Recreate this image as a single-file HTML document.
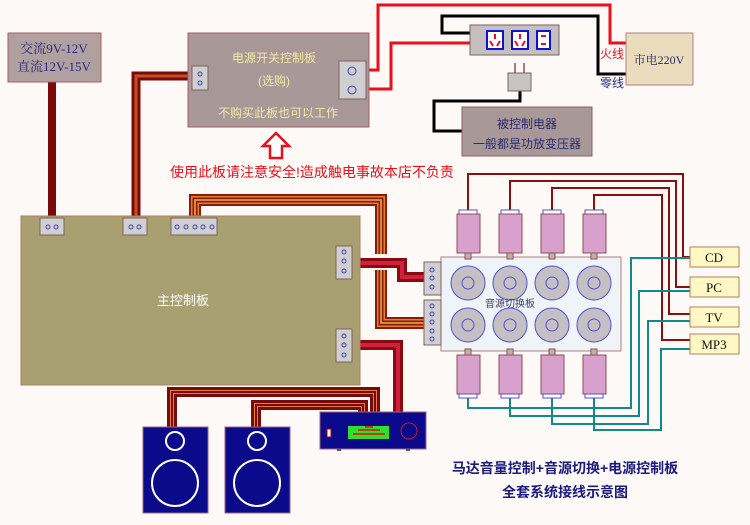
<!DOCTYPE html>
<html><head><meta charset="utf-8"><style>
html,body{margin:0;padding:0;background:#fdf9f6;}
svg{display:block;font-family:"Liberation Sans","Noto Sans CJK SC",sans-serif;}
.sf{font-family:"Liberation Serif","Noto Serif CJK SC",serif;}
</style></head><body>
<svg width="750" height="525" viewBox="0 0 750 525" xmlns="http://www.w3.org/2000/svg">
<defs>
<g id="rib">
</g>
</defs>
<rect width="750" height="525" fill="#fdf9f6"/>

<!-- wires: power -->
<polyline points="369,70 378,70 378,5 610,5 610,43 626,43" fill="none" stroke="#e8101c" stroke-width="3"/>
<polyline points="369,89 391,89 391,43 470,43" fill="none" stroke="#e8101c" stroke-width="3"/>
<polyline points="470,33 442,33 442,16 598,16 598,74 626,74" fill="none" stroke="#000" stroke-width="3"/>
<polyline points="520,91 520,101 434,101 434,131 462,131" fill="none" stroke="#000" stroke-width="3"/>

<!-- AC wire -->
<rect x="48" y="82" width="8" height="136" fill="#7a0a0a"/>

<!-- ribbon cables -->
<g fill="none" stroke-linejoin="miter">
<g id="r1">
<polyline points="136,218 136,76 188,76" stroke="#7a0a0a" stroke-width="9"/>
<polyline points="136,218 136,76 188,76" stroke="#c05020" stroke-width="3"/>
</g>
<polyline points="195,216 195,200 381,200 381,254" stroke="#8a1a0a" stroke-width="12"/>
<polyline points="195,216 195,200 381,200 381,254" stroke="#e08030" stroke-width="8"/>
<polyline points="195,216 195,200 381,200 381,254" stroke="#8a1a0a" stroke-width="5"/>
<polyline points="195,216 195,200 381,200 381,254" stroke="#f0b040" stroke-width="1.5"/>
<polyline points="352,263 402,263 402,277 424,277" stroke="#8a0a10" stroke-width="10"/>
<polyline points="352,263 402,263 402,277 424,277" stroke="#d02040" stroke-width="4"/>
<polyline points="381,270 381,323 424,323" stroke="#8a1a0a" stroke-width="12"/>
<polyline points="381,270 381,323 424,323" stroke="#e08030" stroke-width="8"/>
<polyline points="381,270 381,323 424,323" stroke="#8a1a0a" stroke-width="5"/>
<polyline points="381,270 381,323 424,323" stroke="#f0b040" stroke-width="1.5"/>
<polyline points="352,345 398,345 398,412" stroke="#8a0a10" stroke-width="10"/>
<polyline points="352,345 398,345 398,412" stroke="#d02040" stroke-width="4"/>
<polyline points="172,427 172,392 375,392 375,412" stroke="#7a0a0a" stroke-width="10"/>
<polyline points="172,427 172,392 375,392 375,412" stroke="#e08030" stroke-width="4"/>
<polyline points="172,427 172,392 375,392 375,412" stroke="#7a0a0a" stroke-width="2"/>
<polyline points="256,427 256,405 363,405 363,412" stroke="#7a0a0a" stroke-width="10"/>
<polyline points="256,427 256,405 363,405 363,412" stroke="#e08030" stroke-width="4"/>
<polyline points="256,427 256,405 363,405 363,412" stroke="#7a0a0a" stroke-width="2"/>
</g>

<!-- signal wires -->
<g fill="none" stroke="#8a1010" stroke-width="2">
<polyline points="468,213 468,174 683,174 683,257 690,257"/>
<polyline points="510,213 510,181 676,181 676,287 690,287"/>
<polyline points="552,213 552,188 669,188 669,314 690,314"/>
<polyline points="594,213 594,195 662,195 662,340 690,340"/>
</g>
<g fill="none" stroke="#108a8a" stroke-width="2">
<polyline points="468,396 468,408 631,408 631,258 690,258"/>
<polyline points="510,396 510,416 639,416 639,291 690,291"/>
<polyline points="552,396 552,424 648,424 648,321 690,321"/>
<polyline points="594,396 594,430 661,430 661,349 690,349"/>
</g>

<!-- AC box -->
<rect x="8" y="33" width="93" height="49" fill="#b0a0a0" stroke="#a86060"/>
<text x="54" y="53" class="sf" font-size="13" fill="#2a2a80" text-anchor="middle">交流9V-12V</text>
<text x="54" y="71" class="sf" font-size="13" fill="#2a2a80" text-anchor="middle">直流12V-15V</text>

<!-- power board -->
<rect x="188" y="33" width="181" height="94" fill="#a89898" stroke="#a86060"/>
<rect x="192" y="66" width="16" height="24" fill="#d0d0d0" stroke="#806060"/>
<circle cx="200" cy="74" r="2" fill="none" stroke="#4040c0"/><circle cx="200" cy="83" r="2" fill="none" stroke="#4040c0"/>
<rect x="339" y="61" width="27" height="38" fill="#d0d0d0" stroke="#806060"/>
<circle cx="352" cy="71" r="4" fill="none" stroke="#4040c0"/><circle cx="352" cy="90" r="4" fill="none" stroke="#4040c0"/>
<text x="274" y="62" font-size="12" fill="#f5e8a8" text-anchor="middle">电源开关控制板</text>
<text x="274" y="85" font-size="12" fill="#f5e8a8" text-anchor="middle">(选购)</text>
<text x="278" y="117" font-size="12" fill="#f5e8a8" text-anchor="middle">不购买此板也可以工作</text>

<!-- red arrow -->
<path d="M276,133 L289,146 L282,146 L282,158 L270,158 L270,146 L263,146 Z" fill="#fff" stroke="#e8101c" stroke-width="2.5"/>
<text x="312" y="177" font-size="14" fill="#e8101c" text-anchor="middle">使用此板请注意安全!造成触电事故本店不负责</text>

<!-- socket -->
<rect x="470" y="25" width="89" height="30" fill="#c4c0c0" stroke="#806060"/>
<g fill="#fff" stroke="#1010d0" stroke-width="2">
<rect x="487" y="31" width="16" height="18"/><rect x="512" y="31" width="16" height="18"/><rect x="537" y="31" width="13" height="18"/>
</g>
<g stroke="#e8101c" stroke-width="2">
<line x1="495" y1="34" x2="495" y2="39"/><line x1="490" y1="41" x2="493" y2="46"/><line x1="500" y1="41" x2="497" y2="46"/>
<line x1="520" y1="34" x2="520" y2="39"/><line x1="515" y1="41" x2="518" y2="46"/><line x1="525" y1="41" x2="522" y2="46"/>
<line x1="541" y1="36" x2="546" y2="36"/><line x1="541" y1="44" x2="546" y2="44"/>
</g>
<!-- plug -->
<rect x="514" y="63" width="2" height="10" fill="#a08080"/><rect x="523" y="63" width="2" height="10" fill="#a08080"/>
<rect x="508" y="73" width="23" height="18" fill="#c8c4c4" stroke="#806060"/>

<!-- 220V -->
<rect x="626" y="33" width="67" height="52" fill="#eadcbc" stroke="#b08080"/>
<text x="659" y="64" class="sf" font-size="12" fill="#2a2a60" text-anchor="middle">市电220V</text>
<text x="600" y="58" font-size="12" fill="#e8101c">火线</text>
<text x="600" y="87" font-size="12" fill="#2a2a80">零线</text>

<!-- controlled appliance -->
<rect x="462" y="107" width="130" height="49" fill="#a89898" stroke="#906060"/>
<text x="527" y="128" font-size="12" fill="#2a2a70" text-anchor="middle">被控制电器</text>
<text x="527" y="148" font-size="12" fill="#2a2a70" text-anchor="middle">一般都是功放变压器</text>

<!-- main board -->
<rect x="21" y="216" width="339" height="169" fill="#a8a070" stroke="#b08060"/>
<g fill="#d0d0d0" stroke="#806060">
<rect x="40" y="218" width="24" height="17"/><rect x="123" y="218" width="24" height="17"/><rect x="171" y="218" width="46" height="17"/>
<rect x="336" y="246" width="16" height="33"/><rect x="336" y="329" width="16" height="33"/>
</g>
<g fill="none" stroke="#4040c0">
<circle cx="48" cy="227" r="2"/><circle cx="56" cy="227" r="2"/>
<circle cx="131" cy="227" r="2"/><circle cx="139" cy="227" r="2"/>
<circle cx="177" cy="227" r="2"/><circle cx="186" cy="227" r="2"/><circle cx="195" cy="227" r="2"/><circle cx="203" cy="227" r="2"/><circle cx="212" cy="227" r="2"/>
<circle cx="344" cy="252" r="2"/><circle cx="344" cy="261" r="2"/><circle cx="344" cy="271" r="2"/>
<circle cx="344" cy="336" r="2"/><circle cx="344" cy="345" r="2"/><circle cx="344" cy="355" r="2"/>
</g>
<text x="183" y="305" font-size="13" fill="#fff" text-anchor="middle">主控制板</text>

<!-- switch board -->
<rect x="441" y="257" width="180" height="94" fill="#eef4f8" stroke="#b08080"/>
<g fill="#d0d0d0" stroke="#806060">
<rect x="424" y="262" width="17" height="33"/><rect x="424" y="300" width="17" height="45"/>
</g>
<g fill="none" stroke="#4040c0">
<circle cx="432" cy="270" r="2"/><circle cx="432" cy="278" r="2"/><circle cx="432" cy="287" r="2"/>
<circle cx="432" cy="306" r="2"/><circle cx="432" cy="314" r="2"/><circle cx="432" cy="322" r="2"/><circle cx="432" cy="331" r="2"/><circle cx="432" cy="339" r="2"/>
</g>
<g id="knobs">
<g fill="#c4c0c4" stroke="#5050d0">
<circle cx="468" cy="283" r="17"/><circle cx="510" cy="283" r="17"/><circle cx="552" cy="283" r="17"/><circle cx="594" cy="283" r="17"/>
<circle cx="468" cy="325" r="17"/><circle cx="510" cy="325" r="17"/><circle cx="552" cy="325" r="17"/><circle cx="594" cy="325" r="17"/>
</g>
<g fill="none" stroke="#5050d0">
<circle cx="468" cy="283" r="6"/><circle cx="510" cy="283" r="6"/><circle cx="552" cy="283" r="6"/><circle cx="594" cy="283" r="6"/>
<circle cx="468" cy="325" r="6"/><circle cx="510" cy="325" r="6"/><circle cx="552" cy="325" r="6"/><circle cx="594" cy="325" r="6"/>
</g>
</g>
<text x="510" y="307" font-size="10" fill="#404060" text-anchor="middle">音源切换板</text>

<!-- pink caps -->
<g stroke="#905050">
<g id="capt">
<rect x="459" y="210" width="18" height="4" fill="#fff" stroke="#5050d0"/>
<rect x="457" y="214" width="23" height="39" fill="#d8a0cc"/>
<rect x="465" y="253" width="6" height="6" fill="#c0b0b0"/>
</g>
<use href="#capt" x="42"/><use href="#capt" x="84"/><use href="#capt" x="126"/>
<g id="capb">
<rect x="465" y="349" width="6" height="6" fill="#c0b0b0"/>
<rect x="457" y="355" width="23" height="39" fill="#d8a0cc"/>
<rect x="459" y="394" width="18" height="4" fill="#fff" stroke="#5050d0"/>
</g>
<use href="#capb" x="42"/><use href="#capb" x="84"/><use href="#capb" x="126"/>
</g>

<!-- labels -->
<g fill="#fff8c4" stroke="#b08060">
<rect x="690" y="247" width="49" height="20"/><rect x="690" y="277" width="49" height="20"/>
<rect x="690" y="307" width="49" height="20"/><rect x="690" y="334" width="49" height="20"/>
</g>
<g class="sf" font-size="13" fill="#101010" text-anchor="middle">
<text x="714" y="262">CD</text><text x="714" y="292">PC</text><text x="714" y="322">TV</text><text x="714" y="349">MP3</text>
</g>

<!-- speakers -->
<g fill="#0a0a8a" stroke="#a06080">
<rect x="143" y="427" width="65" height="86"/><rect x="225" y="427" width="65" height="86"/>
</g>
<g fill="none" stroke="#fff" stroke-width="2">
<circle cx="175" cy="441" r="9"/><circle cx="175" cy="483" r="23"/>
<circle cx="257" cy="441" r="9"/><circle cx="257" cy="483" r="23"/>
</g>

<!-- amp -->
<rect x="320" y="412" width="106" height="37" fill="#0a0a8a" stroke="#a06080"/>
<rect x="327" y="429" width="4" height="8" fill="#fff" stroke="#a00"/>
<rect x="348" y="426" width="41" height="13" fill="#30e030"/>
<g fill="#c04010">
<rect x="353" y="433" width="32" height="2"/><rect x="358" y="429" width="22" height="2"/><rect x="365" y="426" width="8" height="2"/>
</g>
<circle cx="409" cy="431" r="8" fill="none" stroke="#c02020"/>
<rect x="337" y="449" width="4" height="2" fill="#555"/><rect x="406" y="449" width="4" height="2" fill="#555"/>

<!-- title -->
<text x="565" y="473" font-size="14" font-weight="bold" fill="#1a1a80" text-anchor="middle">马达音量控制+音源切换+电源控制板</text>
<text x="565" y="497" font-size="14" font-weight="bold" fill="#1a1a80" text-anchor="middle">全套系统接线示意图</text>
</svg>
</body></html>
